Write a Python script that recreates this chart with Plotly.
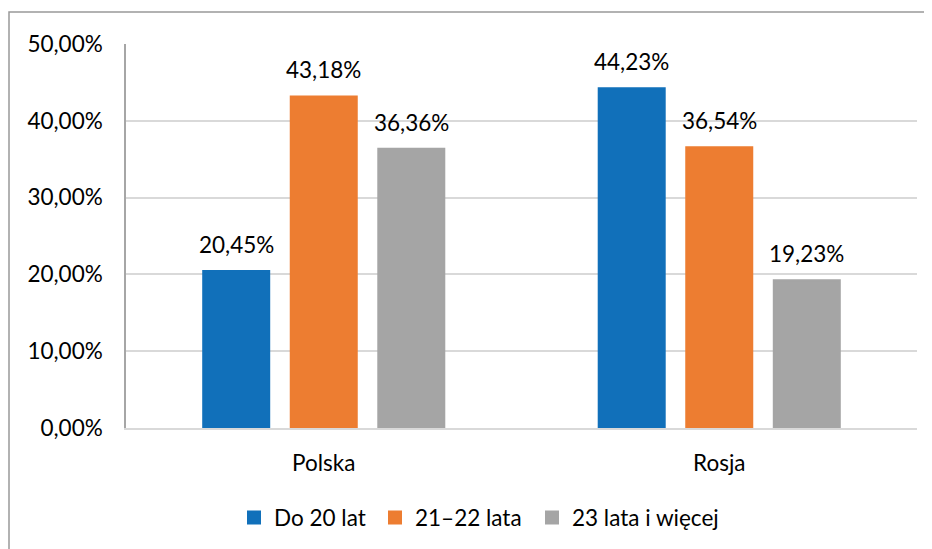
import plotly.graph_objects as go

categories = ["Polska", "Rosja"]
series_names = ["Do 20 lat", "21–22 lata", "23 lata i więcej"]
series_values = [
    [20.45, 44.23],
    [43.18, 36.54],
    [36.36, 19.23],
]
colors = ["#1170BA", "#ED7D31", "#A5A5A5"]
tick_vals = [0, 10, 20, 30, 40, 50]

FONT = "Lato"
FS = 22.5

# page has an 8px body margin; figure sized to fit the window
W, H = 924, 541
L, T = 118, 36
PW, PH = 791, 384

legend_ids = ["legend", "legend2", "legend3"]
legend_left_px = [240, 381, 538]   # left edge of each legend square (figure px)

fig = go.Figure()
for name, vals, col, lg in zip(series_names, series_values, colors, legend_ids):
    fig.add_trace(go.Bar(
        x=categories, y=[v / 100 for v in vals], name=name, legend=lg,
        marker=dict(color=col, line=dict(width=2, color=col)),
    ))

offsets = [-87.5, 0, 87.5]
for vals, off in zip(series_values, offsets):
    for cat, v in zip(categories, vals):
        fig.add_annotation(
            x=cat, y=v / 100, xref="x", yref="y",
            text=f"{v:.2f}%".replace(".", ","),
            showarrow=False, xshift=off, yshift=11, yanchor="bottom",
            font=dict(family=FONT, size=FS, color="#000"),
        )

# outer chart border (cropped at right/bottom)
fig.add_shape(type="rect", xref="paper", yref="paper",
              x0=(1 - L) / PW, x1=1.1, y0=-0.5, y1=(PH + T - 4) / PH,
              line=dict(color="#999999", width=1.5), fillcolor="rgba(0,0,0,0)", layer="below")

legend_common = dict(orientation="h", xanchor="left", y=-0.234, yanchor="middle",
                     font=dict(family=FONT, size=FS, color="#000"), itemwidth=30,
                     bgcolor="rgba(0,0,0,0)")
legends = {}
for lg, px in zip(legend_ids, legend_left_px):
    legends[lg] = dict(legend_common, x=(px - 14 - L) / PW)

fig.update_layout(
    width=W, height=H,
    margin=dict(l=L, r=W - L - PW, t=T, b=H - T - PH, autoexpand=False),
    paper_bgcolor="white", plot_bgcolor="white",
    separators=",.",
    barmode="group", bargap=0.336, bargroupgap=0.246,
    font=dict(family=FONT, size=FS, color="#000"),
    showlegend=True,
    xaxis=dict(showgrid=False, showline=True, linecolor="#D9D9D9", linewidth=2,
               ticks="", ticklabelstandoff=14, automargin=False, tickfont=dict(family=FONT, size=FS)),
    yaxis=dict(range=[0, 0.5], tickvals=[t / 100 for t in tick_vals], tickformat=".2%",
               showgrid=True, gridcolor="#D9D9D9", gridwidth=2,
               showline=True, linecolor="#A6A6A6", linewidth=1.5,
               zeroline=False, ticks="", ticklabelstandoff=17, automargin=False,
               tickfont=dict(family=FONT, size=FS)),
    **legends,
)

fig.write_html("out.html")
